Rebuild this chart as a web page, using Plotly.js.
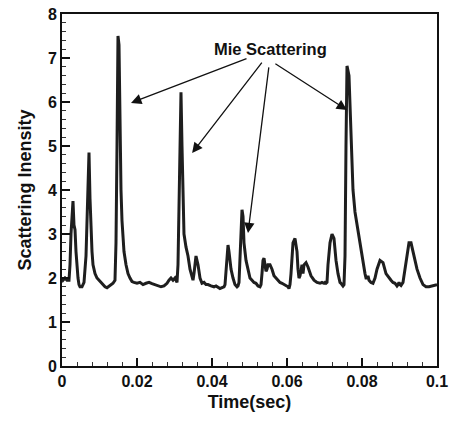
<!DOCTYPE html>
<html>
<head>
<meta charset="utf-8">
<script src="https://cdn.plot.ly/plotly-3.0.1.min.js"></script>
<style>html,body{margin:0;padding:0;background:#fff;}#chart{width:455px;height:421px;}</style>
</head>
<body>
<div id="chart"></div>
<script>
// Time (sec) and scattering intensity
var timeSec = [0.00000,0.00027,0.00080,0.00133,0.00187,0.00213,0.00240,0.00267,0.00293,0.00320,0.00347,0.00373,0.00400,0.00427,0.00453,0.00480,0.00533,0.00587,0.00640,0.00667,0.00693,0.00720,0.00747,0.00773,0.00800,0.00827,0.00880,0.00933,0.00987,0.01040,0.01093,0.01147,0.01200,0.01253,0.01307,0.01360,0.01413,0.01440,0.01467,0.01493,0.01520,0.01547,0.01573,0.01600,0.01627,0.01653,0.01707,0.01760,0.01813,0.01867,0.01920,0.02000,0.02080,0.02160,0.02240,0.02320,0.02400,0.02480,0.02560,0.02640,0.02720,0.02800,0.02853,0.02907,0.02960,0.03013,0.03040,0.03067,0.03093,0.03120,0.03147,0.03173,0.03200,0.03227,0.03253,0.03307,0.03360,0.03413,0.03467,0.03493,0.03520,0.03547,0.03573,0.03627,0.03680,0.03733,0.03787,0.03840,0.03893,0.03973,0.04053,0.04107,0.04160,0.04213,0.04267,0.04320,0.04347,0.04373,0.04400,0.04427,0.04453,0.04507,0.04560,0.04613,0.04667,0.04693,0.04720,0.04747,0.04773,0.04800,0.04827,0.04853,0.04907,0.04960,0.05013,0.05067,0.05120,0.05173,0.05227,0.05280,0.05307,0.05333,0.05360,0.05387,0.05413,0.05440,0.05467,0.05493,0.05547,0.05600,0.05653,0.05707,0.05760,0.05813,0.05867,0.05920,0.05973,0.06027,0.06053,0.06080,0.06107,0.06133,0.06160,0.06213,0.06267,0.06293,0.06320,0.06347,0.06373,0.06400,0.06427,0.06453,0.06507,0.06560,0.06640,0.06720,0.06800,0.06880,0.06933,0.06987,0.07013,0.07040,0.07067,0.07093,0.07147,0.07200,0.07253,0.07307,0.07360,0.07387,0.07413,0.07440,0.07467,0.07493,0.07520,0.07547,0.07573,0.07600,0.07653,0.07707,0.07760,0.07813,0.07867,0.07920,0.07973,0.08027,0.08080,0.08107,0.08133,0.08160,0.08187,0.08240,0.08293,0.08347,0.08400,0.08480,0.08560,0.08640,0.08720,0.08773,0.08827,0.08880,0.08907,0.08933,0.08960,0.08987,0.09013,0.09040,0.09093,0.09147,0.09200,0.09253,0.09307,0.09387,0.09467,0.09547,0.09627,0.09707,0.09787,0.10000];
var intensity = [2.00,1.95,2.00,1.95,1.95,2.30,3.00,3.50,3.75,3.20,3.10,2.60,2.20,2.00,1.85,1.80,1.80,1.90,2.50,3.50,4.50,4.85,3.80,3.00,2.60,2.30,2.10,2.00,1.95,1.90,1.85,1.80,1.78,1.82,1.85,1.88,1.95,2.80,5.00,7.50,7.30,5.50,4.00,3.30,2.90,2.60,2.30,2.10,2.00,1.92,1.90,1.88,1.90,1.85,1.88,1.90,1.87,1.85,1.82,1.80,1.82,1.88,1.95,2.00,1.95,2.00,1.95,1.90,2.30,3.50,5.50,6.22,5.00,3.80,3.00,2.70,2.50,2.20,2.00,1.95,2.10,2.40,2.50,2.30,2.00,1.88,1.90,1.85,1.85,1.82,1.80,1.82,1.78,1.76,1.78,1.80,1.85,2.10,2.50,2.75,2.60,2.20,2.00,1.85,1.80,1.82,1.90,2.50,3.20,3.55,3.40,2.80,2.40,2.20,2.00,1.95,1.90,1.88,1.82,1.80,1.85,2.10,2.40,2.45,2.30,2.15,2.20,2.30,2.30,2.20,2.05,2.00,1.95,1.90,1.88,1.85,1.82,1.80,1.76,1.85,2.10,2.40,2.80,2.90,2.60,2.20,2.00,2.05,2.20,2.30,2.10,2.30,2.35,2.25,2.05,1.95,1.90,1.88,1.90,1.88,1.90,1.88,1.90,2.30,2.80,3.00,2.90,2.40,2.10,1.95,1.90,1.88,1.85,1.82,1.85,2.50,5.00,6.82,6.60,5.00,4.00,3.50,3.20,2.90,2.60,2.30,2.10,2.00,2.00,2.05,1.95,1.90,1.88,2.00,2.20,2.40,2.35,2.10,2.00,1.95,1.90,1.88,1.85,1.82,1.85,1.90,1.85,1.83,1.90,2.20,2.60,2.80,2.80,2.50,2.20,2.00,1.85,1.80,1.80,1.85,1.85,1.83,1.85,1.84,1.84];
var xTicks = [0, 0.02, 0.04, 0.06, 0.08, 0.1];
var xTickLabels = ['0', '0.02', '0.04', '0.06', '0.08', '0.1'];
var yTicks = [0, 1, 2, 3, 4, 5, 6, 7, 8];
var labelText = 'Mie Scattering';
// arrow heads and tails (time, intensity)
var arrowHeadT = [0.0184, 0.0347, 0.0496, 0.0760];
var arrowHeadY = [5.98, 4.84, 3.02, 5.82];
var arrowTailT = [0.0496, 0.0536, 0.0552, 0.0565];
var arrowTailY = [7.00, 6.93, 6.82, 6.89];

var fontFam = 'Liberation Sans, Arial, Helvetica, sans-serif';

var trace = {
  x: timeSec, y: intensity, type: 'scatter', mode: 'lines',
  line: {color: '#1e1e1e', width: 3, shape: 'linear'},
  hoverinfo: 'skip'
};

var annotations = [{
  x: 0.0555, y: 7.2, xref: 'x', yref: 'y', text: labelText, showarrow: false,
  font: {family: fontFam, size: 16.5, color: '#111', weight: 'bold'}
}];
for (var i = 0; i < arrowHeadT.length; i++) {
  annotations.push({
    x: arrowHeadT[i], y: arrowHeadY[i], xref: 'x', yref: 'y',
    ax: arrowTailT[i], ay: arrowTailY[i], axref: 'x', ayref: 'y',
    text: '', showarrow: true, arrowhead: 2, arrowsize: 1.6, arrowwidth: 1.3,
    arrowcolor: '#111', standoff: 0, startstandoff: 0
  });
}

var layout = {
  width: 455, height: 421,
  margin: {l: 62, r: 18, t: 14, b: 55},
  paper_bgcolor: '#fff', plot_bgcolor: '#fff',
  showlegend: false,
  xaxis: {
    range: [0, 0.1], tickvals: xTicks, ticktext: xTickLabels,
    ticks: 'inside', ticklen: 8, tickwidth: 1.5, tickcolor: '#111',
    minor: {dtick: 0.004, ticks: 'inside', ticklen: 4, tickwidth: 1, tickcolor: '#333', showgrid: false},
    showline: true, linecolor: '#111', linewidth: 2, mirror: true,
    showgrid: false, zeroline: false,
    tickfont: {family: fontFam, size: 16, color: '#111', weight: 'bold'},
    title: {text: 'Time(sec)', font: {family: fontFam, size: 18, color: '#111', weight: 'bold'}, standoff: 6}
  },
  yaxis: {
    range: [0, 8], tickvals: yTicks,
    ticks: 'inside', ticklen: 8, tickwidth: 1.5, tickcolor: '#111',
    minor: {dtick: 0.2, ticks: 'inside', ticklen: 4, tickwidth: 1, tickcolor: '#333', showgrid: false},
    showline: true, linecolor: '#111', linewidth: 2, mirror: true,
    showgrid: false, zeroline: false,
    tickfont: {family: fontFam, size: 16, color: '#111', weight: 'bold'},
    title: {text: 'Scattering Inensity', font: {family: fontFam, size: 18, color: '#111', weight: 'bold'}, standoff: 12}
  },
  annotations: annotations
};

Plotly.newPlot('chart', [trace], layout, {staticPlot: true, displayModeBar: false});
</script>
</body>
</html>
